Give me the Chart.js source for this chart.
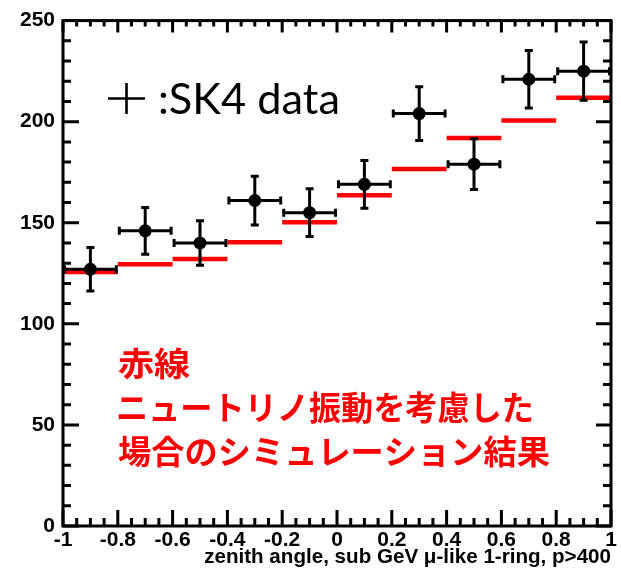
<!DOCTYPE html>
<html>
<head>
<meta charset="utf-8">
<script src="https://cdn.jsdelivr.net/npm/chart.js@4.4.0/dist/chart.umd.min.js"></script>
<style>
  html, body { margin: 0; padding: 0; background: #fff; }
  #wrap { width: 621px; height: 569px; }
  canvas { display: block; }
</style>
</head>
<body>
<div id="wrap"><canvas id="c" width="621" height="569"></canvas></div>
<script>
// Zenith-angle bins (cos θ), bin centres and half width
const binCenters = [-0.9, -0.7, -0.5, -0.3, -0.1, 0.1, 0.3, 0.5, 0.7, 0.9];
const binHalfWidth = 0.1;

// SK4 data: event counts and statistical errors per bin
const dataCounts = [127, 146, 140, 161, 155, 169, 204, 179, 221, 225];
const dataErrors = [11.5, 12.3, 11.7, 12.8, 12.6, 12.6, 14.0, 13.3, 15.0, 15.1];

// Simulation with neutrino oscillation (red histogram)
const simCounts = [125.7, 129.5, 132.1, 140.3, 150.3, 163.6, 176.6, 191.9, 200.6, 211.8];

// Axis ticks and labels
const xTickValues = [-1, -0.8, -0.6, -0.4, -0.2, 0, 0.2, 0.4, 0.6, 0.8, 1];
const yTickValues = [0, 50, 100, 150, 200, 250];
const xTitle = 'zenith angle, sub GeV \u03BC-like 1-ring, p>400';
const legendText = ':SK4 data';
const noteLines = ['赤線', 'ニュートリノ振動を考慮した', '場合のシミュレーション結果'];

// Red histogram steps: one flat segment per bin, broken between bins
const simSegments = [];
binCenters.forEach((c, i) => {
  simSegments.push({ x: c - binHalfWidth, y: simCounts[i] });
  simSegments.push({ x: c + binHalfWidth, y: simCounts[i] });
  simSegments.push({ x: c + binHalfWidth, y: null });
});
const dataPoints = binCenters.map((c, i) => ({ x: c, y: dataCounts[i] }));

const tickFont = { family: 'Liberation Sans, Arial, sans-serif', weight: 'bold', size: 21 };

// Error bars with end caps, drawn from the data through the scales
const errorBars = {
  id: 'errorBars',
  afterDatasetsDraw(chart) {
    const { ctx, scales: { x, y } } = chart;
    const cap = 4;
    ctx.save();
    ctx.strokeStyle = '#000';
    ctx.lineWidth = 3;
    ctx.lineCap = 'butt';
    binCenters.forEach((c, i) => {
      const xl = x.getPixelForValue(c - binHalfWidth);
      const xr = x.getPixelForValue(c + binHalfWidth);
      const xc = x.getPixelForValue(c);
      const yc = y.getPixelForValue(dataCounts[i]);
      const yt = y.getPixelForValue(dataCounts[i] + dataErrors[i]);
      const yb = y.getPixelForValue(dataCounts[i] - dataErrors[i]);
      ctx.beginPath();
      ctx.moveTo(xl, yc); ctx.lineTo(xr, yc);
      ctx.moveTo(xl + 1.5, yc - cap); ctx.lineTo(xl + 1.5, yc + cap);
      ctx.moveTo(xr - 1.5, yc - cap); ctx.lineTo(xr - 1.5, yc + cap);
      ctx.moveTo(xc, yt); ctx.lineTo(xc, yb);
      ctx.moveTo(xc - cap, yt + 1.5); ctx.lineTo(xc + cap, yt + 1.5);
      ctx.moveTo(xc - cap, yb - 1.5); ctx.lineTo(xc + cap, yb - 1.5);
      ctx.stroke();
    });
    ctx.restore();
  }
};

// Frame around the plot with inward ticks on all four sides
const frame = {
  id: 'frame',
  afterDraw(chart) {
    const { ctx, chartArea: a, scales: { x, y } } = chart;
    ctx.save();
    ctx.strokeStyle = '#000';
    ctx.lineWidth = 3;
    ctx.lineCap = 'butt';
    ctx.beginPath();
    // x ticks: major every 0.2, minor every 0.05
    for (let k = 0; k <= 40; k++) {
      const v = -1 + k * 0.05;
      const px = x.getPixelForValue(v);
      const major = k % 4 === 0;
      ctx.moveTo(px, a.bottom); ctx.lineTo(px, a.bottom - (major ? 16 : 8));
      ctx.moveTo(px, a.top); ctx.lineTo(px, a.top + (major ? 12 : 6));
    }
    // y ticks: major every 50, minor every 10
    for (let k = 0; k <= 25; k++) {
      const py = y.getPixelForValue(k * 10);
      const major = k % 5 === 0;
      ctx.moveTo(a.left, py); ctx.lineTo(a.left + (major ? 16 : 8), py);
      ctx.moveTo(a.right, py); ctx.lineTo(a.right - (major ? 15 : 8), py);
    }
    ctx.stroke();
    ctx.strokeRect(a.left, a.top, a.right - a.left, a.bottom - a.top);
    ctx.restore();
  }
};

// Draw a text line stretched so its ink spans [left, right], ink top at `top`
function fitText(ctx, text, left, right, top) {
  const m = ctx.measureText(text);
  const ink = m.actualBoundingBoxLeft + m.actualBoundingBoxRight;
  const sx = (right - left) / ink;
  ctx.save();
  ctx.translate(left, top + m.actualBoundingBoxAscent);
  ctx.scale(sx, 1);
  ctx.fillText(text, m.actualBoundingBoxLeft, 0);
  ctx.restore();
}

// Legend marker and the explanatory red note
const annotations = {
  id: 'annotations',
  afterDraw(chart) {
    const ctx = chart.ctx;
    ctx.save();
    ctx.textAlign = 'left';
    ctx.textBaseline = 'alphabetic';
    // "+" marker for the data
    ctx.strokeStyle = '#000';
    ctx.lineWidth = 2.6;
    ctx.beginPath();
    ctx.moveTo(108, 98.5); ctx.lineTo(145, 98.5);
    ctx.moveTo(126.5, 83); ctx.lineTo(126.5, 114);
    ctx.stroke();
    ctx.fillStyle = '#000';
    ctx.font = '42px Lato, "Open Sans", sans-serif';
    fitText(ctx, legendText, 160, 338, 83);
    // red note
    ctx.fillStyle = '#ff0000';
    ctx.font = 'bold 33px "Noto Sans CJK JP", sans-serif';
    fitText(ctx, noteLines[0], 118, 190, 347);
    fitText(ctx, noteLines[1], 118, 532, 391);
    fitText(ctx, noteLines[2], 118, 550, 435);
    ctx.restore();
  }
};

new Chart(document.getElementById('c'), {
  data: {
    datasets: [
      {
        type: 'line',
        data: simSegments,
        borderColor: '#ff0000',
        borderWidth: 4.5,
        pointRadius: 0,
        spanGaps: false,
        fill: false,
        tension: 0,
        order: 2
      },
      {
        type: 'scatter',
        data: dataPoints,
        pointRadius: 6.5,
        pointBackgroundColor: '#000',
        pointBorderWidth: 0,
        order: 1
      }
    ]
  },
  options: {
    responsive: false,
    animation: false,
    devicePixelRatio: 1,
    layout: { padding: { top: 15, right: 10, left: 0, bottom: 0 } },
    plugins: { legend: { display: false }, tooltip: { enabled: false } },
    scales: {
      x: {
        type: 'linear',
        min: -1, max: 1,
        grid: { display: false, drawTicks: false },
        border: { display: false },
        afterBuildTicks(s) { s.ticks = xTickValues.map(v => ({ value: v })); },
        afterFit(s) { s.height = 43; },
        ticks: {
          font: tickFont, color: '#000', padding: 2, maxRotation: 0, autoSkip: false,
          callback: v => String(+v.toFixed(1))
        },
        title: {
          display: true, text: xTitle, align: 'end', color: '#000',
          font: { family: 'Liberation Sans, Arial, sans-serif', weight: 'bold', size: 20.6 },
          padding: { top: 0, bottom: -1 }
        }
      },
      y: {
        type: 'linear',
        min: 0, max: 250,
        grid: { display: false, drawTicks: false },
        border: { display: false },
        afterBuildTicks(s) { s.ticks = yTickValues.map(v => ({ value: v })); },
        afterFit(s) { s.width = 63; },
        ticks: { font: tickFont, color: '#000', padding: 8, autoSkip: false }
      }
    }
  },
  plugins: [errorBars, frame, annotations]
});
</script>
</body>
</html>
